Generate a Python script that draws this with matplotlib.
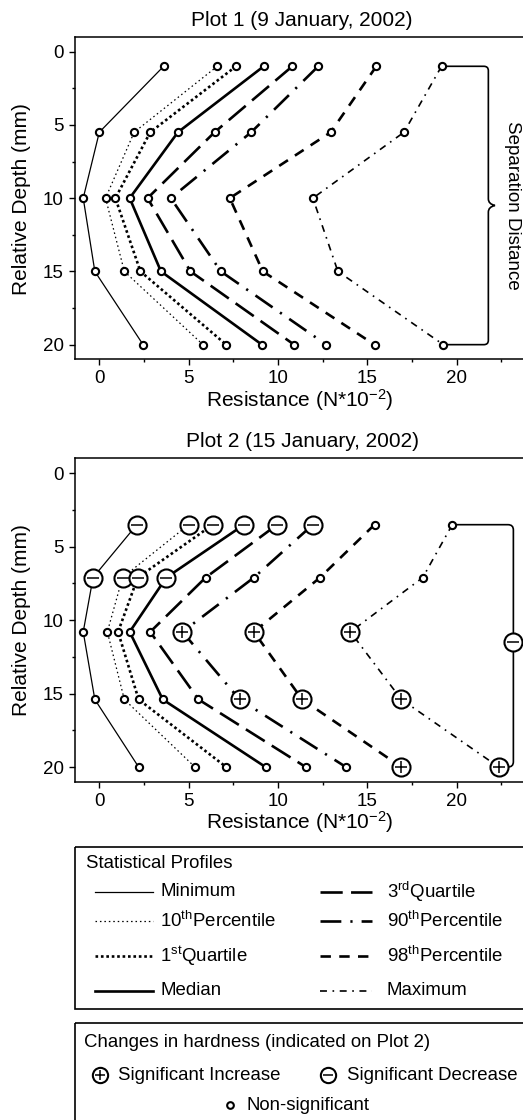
import matplotlib
matplotlib.use("Agg")
import matplotlib.pyplot as plt
from matplotlib.ticker import MultipleLocator
from matplotlib.path import Path
from matplotlib.patches import PathPatch, Rectangle

plt.rcParams['font.family'] = ['Liberation Sans', 'DejaVu Sans']
plt.rcParams['mathtext.fontset'] = 'custom'
plt.rcParams['mathtext.rm'] = 'Liberation Sans'
plt.rcParams['mathtext.it'] = 'Liberation Sans:italic'
plt.rcParams['mathtext.bf'] = 'Liberation Sans:bold'
plt.rcParams['lines.scale_dashes'] = False

# ---------------- data ----------------
profiles = ["Minimum", "10th", "Q1", "Median", "Q3", "90th", "98th", "Maximum"]

depth1 = [1, 5.5, 10, 15, 20]
p1_min = [3.6, 0.0, -0.9, -0.25, 2.45]
p1_p10 = [6.6, 1.95, 0.35, 1.4, 5.8]
p1_q1 = [7.65, 2.85, 0.9, 2.3, 7.1]
p1_med = [9.2, 4.4, 1.7, 3.45, 9.1]
p1_q3 = [10.8, 6.45, 2.7, 5.1, 10.9]
p1_p90 = [12.25, 8.5, 4.0, 6.8, 12.7]
p1_p98 = [15.5, 12.95, 7.3, 9.15, 15.4]
p1_max = [19.15, 17.05, 11.95, 13.35, 19.25]

depth2 = [3.5, 7.1, 10.8, 15.4, 20]
p2_min = [2.1, -0.35, -0.9, -0.25, 2.2]
p2_p10 = [5.0, 1.3, 0.45, 1.4, 5.35]
p2_q1 = [6.35, 2.15, 1.05, 2.2, 7.1]
p2_med = [8.1, 3.75, 1.7, 3.55, 9.3]
p2_q3 = [9.95, 5.95, 2.85, 5.55, 11.55]
p2_p90 = [11.95, 8.65, 4.65, 7.85, 13.8]
p2_p98 = [15.4, 12.35, 8.65, 11.35, 16.9]
p2_max = [19.75, 18.1, 14.05, 16.9, 22.35]

# significance of change on plot 2: d = decrease, i = increase, n = non-significant
s_min = ['d', 'd', 'n', 'n', 'n']
s_p10 = ['d', 'd', 'n', 'n', 'n']
s_q1 = ['d', 'd', 'n', 'n', 'n']
s_med = ['d', 'd', 'n', 'n', 'n']
s_q3 = ['d', 'n', 'n', 'n', 'n']
s_p90 = ['d', 'n', 'i', 'i', 'n']
s_p98 = ['n', 'n', 'i', 'i', 'i']
s_max = ['n', 'n', 'i', 'i', 'i']
sep_sig = 'd'

x_ticks = [0, 5, 10, 15, 20]
y_ticks = [0, 5, 10, 15, 20]

plot1 = [p1_min, p1_p10, p1_q1, p1_med, p1_q3, p1_p90, p1_p98, p1_max]
plot2 = [p2_min, p2_p10, p2_q1, p2_med, p2_q3, p2_p90, p2_p98, p2_max]
sig2 = [s_min, s_p10, s_q1, s_med, s_q3, s_p90, s_p98, s_max]

# ---------------- styles ----------------
styles = [
    dict(lw=0.9, ls='-'),
    dict(lw=0.9, dashes=(1.1, 2.1)),
    dict(lw=1.9, dashes=(1.9, 2.0)),
    dict(lw=1.9, ls='-'),
    dict(lw=1.9, dashes=(16, 6)),
    dict(lw=1.9, dashes=(15, 6.5, 1.6, 6.5)),
    dict(lw=1.9, dashes=(7.5, 6)),
    dict(lw=1.2, dashes=(5, 4, 1.2, 4)),
]

W, H = 523, 1120
fig = plt.figure(figsize=(W / 100, H / 100), dpi=100)

FS_TICK = 13.5
FS_LAB = 15

def px2fig(x, y):
    return x / W, 1 - y / H

def small_marker(ax, x, y, ms=5.2):
    ax.plot(x, y, 'o', ms=ms, mfc='white', mec='black', mew=1.5, zorder=4, ls='none')

def big_marker(ax, x, y, kind, ms=13, ims=8.5):
    ax.plot(x, y, 'o', ms=ms, mfc='white', mec='black', mew=1.5, zorder=5, ls='none')
    ax.plot(x, y, '+' if kind == 'i' else '_', ms=ims, mec='black', mew=1.1, zorder=6, ls='none')

def setup_axes(rect):
    ax = fig.add_axes(rect)
    ax.set_xlim(-1.36, 24.66)
    ax.set_ylim(21.0, -1.02)
    ax.set_xticks(x_ticks)
    ax.set_yticks(y_ticks)
    ax.xaxis.set_minor_locator(MultipleLocator(2.5))
    ax.yaxis.set_minor_locator(MultipleLocator(2.5))
    ax.tick_params(which='major', direction='out', length=4, width=1, labelsize=FS_TICK, pad=4)
    ax.tick_params(which='minor', direction='out', length=2.5, width=1)
    ax.tick_params(top=False, right=False)
    for s in ax.spines.values():
        s.set_linewidth(1.1)
    return ax

axw = (540 - 75) / W
ax1 = setup_axes([75 / W, (H - 359.3) / H, axw, 322.6 / H])
ax2 = setup_axes([75 / W, (H - 781.7) / H, axw, 323.4 / H])

# ---------------- plot 1 ----------------
for vals, st in zip(plot1, styles):
    ax1.plot(vals, depth1, color='black', zorder=2, **st)
    small_marker(ax1, vals, depth1)

# Separation distance brace on plot 1
xv = 21.77
rx, ry = 0.25, 0.3
ytop, ybot = depth1[0], depth1[-1]
ym = (ytop + ybot) / 2
tip = 0.37
verts = [
    (p1_max[0], ytop), (xv - rx, ytop),
    (xv, ytop), (xv, ytop + ry),
    (xv, ym - 0.45),
    (xv, ym - 0.1), (xv + tip, ym),
    (xv, ym + 0.1), (xv, ym + 0.45),
    (xv, ybot - ry),
    (xv, ybot), (xv - rx, ybot),
    (p1_max[-1], ybot),
]
codes = [Path.MOVETO, Path.LINETO, Path.CURVE3, Path.CURVE3, Path.LINETO,
         Path.CURVE3, Path.CURVE3, Path.CURVE3, Path.CURVE3, Path.LINETO,
         Path.CURVE3, Path.CURVE3, Path.LINETO]
ax1.add_patch(PathPatch(Path(verts, codes), fill=False, lw=1.2, ec='black', zorder=1, clip_on=False))
ax1.text(23.1, ym, "Separation Distance", rotation=-90, ha='center', va='center', fontsize=13.5)

# ---------------- plot 2 ----------------
for vals, st, sg in zip(plot2, styles, sig2):
    ax2.plot(vals, depth2, color='black', zorder=2, **st)
    for xx, yy, k in zip(vals, depth2, sg):
        if k == 'n':
            small_marker(ax2, [xx], [yy])
        else:
            big_marker(ax2, [xx], [yy], k)

xv2 = 23.17
rx2, ry2 = 0.3, 0.36
yt2, yb2 = depth2[0], depth2[-1]
verts2 = [
    (p2_max[0], yt2), (xv2 - rx2, yt2),
    (xv2, yt2), (xv2, yt2 + ry2),
    (xv2, yb2 - ry2),
    (xv2, yb2), (xv2 - rx2, yb2),
    (p2_max[-1], yb2),
]
codes2 = [Path.MOVETO, Path.LINETO, Path.CURVE3, Path.CURVE3, Path.LINETO,
          Path.CURVE3, Path.CURVE3, Path.LINETO]
ax2.add_patch(PathPatch(Path(verts2, codes2), fill=False, lw=1.2, ec='black', zorder=1, clip_on=False))
big_marker(ax2, [xv2], [11.5], sep_sig)

# ---------------- titles / labels ----------------
fig.text(*px2fig(302, 20.7), "Plot 1 (9 January, 2002)", ha='center', va='center', fontsize=FS_LAB)
fig.text(*px2fig(302, 441.7), "Plot 2 (15 January, 2002)", ha='center', va='center', fontsize=FS_LAB)
xl = r"Resistance (N*10$^{-2}$)"
fig.text(*px2fig(300, 400), xl, ha='center', va='center', fontsize=FS_LAB)
fig.text(*px2fig(300, 822), xl, ha='center', va='center', fontsize=FS_LAB)
fig.text(*px2fig(21.7, 199), "Relative Depth (mm)", rotation=90, ha='center', va='center', fontsize=FS_LAB)
fig.text(*px2fig(21.7, 620), "Relative Depth (mm)", rotation=90, ha='center', va='center', fontsize=FS_LAB)

# ---------------- legends (drawn in pixel coordinates) ----------------
lg = fig.add_axes([0, 0, 1, 1])
lg.set_xlim(0, W)
lg.set_ylim(H, 0)
lg.axis('off')
lg.patch.set_alpha(0)

FS_LEG = 13.4
lg.add_patch(Rectangle((75, 847.3), 470, 161.7, fill=False, lw=1.2, ec='black'))
lg.add_patch(Rectangle((75, 1022.7), 470, 120, fill=False, lw=1.2, ec='black'))

labels = ["Minimum", r"10$^{\rm th}$Percentile", r"1$^{\rm st}$Quartile", "Median",
          r"3$^{\rm rd}$Quartile", r"90$^{\rm th}$Percentile", r"98$^{\rm th}$Percentile", "Maximum"]
row_y = [891.7, 921, 955.7, 990.7]
lg.text(86, 864, "Statistical Profiles", ha='left', va='center', fontsize=FS_LEG)
for i, (lab, st) in enumerate(zip(labels, styles)):
    col = i // 4
    y = row_y[i % 4]
    x0, x1, xt = (95, 153, 160) if col == 0 else (320, 372, 386.7)
    lg.plot([x0, x1], [y, y], color='black', **st)
    lg.text(xt, y, lab, ha='left', va='center', fontsize=FS_LEG)

lg.text(84, 1042.3, "Changes in hardness (indicated on Plot 2)", ha='left', va='center', fontsize=FS_LEG)
for xm, k, txt, xt in [(100, 'i', "Significant Increase", 118), (328.3, 'd', "Significant Decrease", 346.7)]:
    big_marker(lg, [xm], [1075], k, ms=11, ims=7.5)
    lg.text(xt, 1075, txt, ha='left', va='center', fontsize=FS_LEG)
small_marker(lg, [230], [1105], ms=4.8)
lg.text(246.7, 1105, "Non-significant", ha='left', va='center', fontsize=FS_LEG)

fig.savefig("out.png", dpi=100)
